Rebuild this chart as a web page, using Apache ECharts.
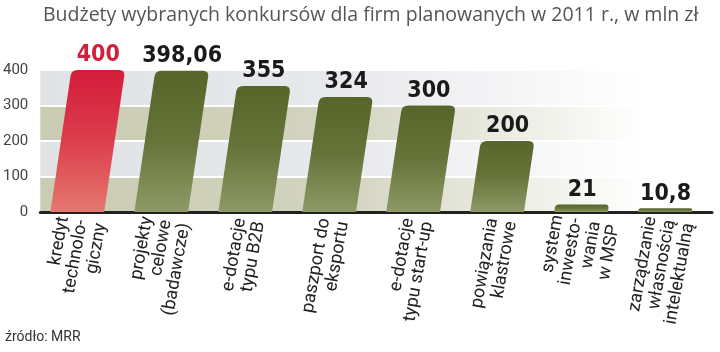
<!DOCTYPE html>
<html>
<head>
<meta charset="utf-8">
<script src="https://cdn.jsdelivr.net/npm/echarts@6/dist/echarts.min.js"></script>
<style>
  html, body { margin: 0; padding: 0; background: #fff; }
  #chart { width: 720px; height: 352px; }
</style>
</head>
<body>
<div id="chart"></div>
<script>
// categories (line breaks as in the original)
var categories = [
    'kredyt\ntechnolo-\ngiczny',
    'projekty\ncelowe\n(badawcze)',
    'e-dotacje\ntypu B2B',
    'paszport do\neksportu',
    'e-dotacje\ntypu start-up',
    'powiązania\nklastrowe',
    'system\ninwesto-\nwania\nw MSP',
    'zarządzanie\nwłasnością\nintelektualną'
];
// budgets in mln zł
var values = [400, 398.06, 355, 324, 300, 200, 21, 10.8];
var valueLabels = ['400', '398,06', '355', '324', '300', '200', '21', '10,8'];
var yTicks = [0, 100, 200, 300, 400];

var chart = echarts.init(document.getElementById('chart'));

// slanted bar with rounded top corners
function renderBar(params, api) {
    var idx = api.value(0);
    var val = api.value(1);
    var base = api.coord([idx, 0]);
    var top = api.coord([idx, val]);
    var w = api.size([1, 0])[0] * 0.64;
    var h = base[1] - top[1];
    var skew = 0.148;
    var bx = base[0] - 5;
    var tx = bx + h * skew;
    var r = Math.min(6, h / 2);
    var y0 = base[1], y1 = top[1];
    var bl = bx - w / 2, br = bx + w / 2, tl = tx - w / 2, tr = tx + w / 2;
    var d = 'M' + bl + ',' + y0 +
        ' L' + (tl - skew * r) + ',' + (y1 + r) +
        ' Q' + tl + ',' + y1 + ' ' + (tl + r) + ',' + y1 +
        ' L' + (tr - r) + ',' + y1 +
        ' Q' + tr + ',' + y1 + ' ' + (tr - skew * r) + ',' + (y1 + r) +
        ' L' + br + ',' + y0 + ' Z';
    var red = idx === 0;
    var fill = {
        type: 'linear', x: 0, y: 0, x2: 0, y2: 1,
        colorStops: red
            ? [{ offset: 0, color: '#d41c3a' }, { offset: 0.5, color: '#dc3e4c' }, { offset: 1, color: '#e5786f' }]
            : [{ offset: 0, color: '#566529' }, { offset: 0.5, color: '#66743a' }, { offset: 1, color: '#8e9a66' }]
    };
    return {
        type: 'group',
        children: [
            { type: 'path', shape: { pathData: d }, style: { fill: fill } },
            {
                type: 'text',
                style: {
                    text: valueLabels[idx],
                    x: tx, y: y1 - 3,
                    align: 'center', verticalAlign: 'bottom',
                    fill: red ? '#d21f3c' : '#1a1a1a',
                    fontSize: 23, fontWeight: 'bold',
                    fontFamily: '"DejaVu Sans Condensed", "DejaVu Sans", sans-serif'
                }
            }
        ]
    };
}

// horizontal band that fades out to the right
function band(c1, c2) {
    return {
        type: 'linear', x: 0, y: 0, x2: 1, y2: 0,
        colorStops: [{ offset: 0, color: c1 }, { offset: 0.45, color: c2 }, { offset: 0.9, color: '#ffffff' }]
    };
}

var option = {
    animation: false,
    title: [
        {
            text: 'Budżety wybranych konkursów dla firm planowanych w 2011 r., w mln zł',
            left: 38, top: 0,
            textStyle: { fontFamily: 'Open Sans', fontSize: 19.5, fontWeight: 'normal', color: '#555' }
        },
        {
            text: 'źródło: MRR',
            left: 0, top: 325,
            textStyle: { fontFamily: 'Roboto', fontSize: 14, fontWeight: 'normal', color: '#333' }
        }
    ],
    grid: { left: 40, right: 8, top: 70, bottom: 140 },
    xAxis: {
        type: 'category',
        data: categories,
        axisLine: { lineStyle: { color: '#222', width: 3 } },
        axisTick: { show: false },
        axisLabel: {
            interval: 0, rotate: 80, margin: 8,
            padding: [0, 0, 14, 0],
            fontFamily: 'Roboto', fontSize: 18, lineHeight: 19, color: '#222'
        }
    },
    yAxis: {
        type: 'value',
        min: yTicks[0], max: yTicks[yTicks.length - 1], interval: 100,
        axisLine: { show: false },
        axisTick: { show: false },
        axisLabel: { margin: 12, fontFamily: 'Roboto', fontSize: 15, color: '#444' },
        splitLine: { lineStyle: { color: '#ffffff', width: 2 } },
        splitArea: {
            show: true,
            areaStyle: { color: [band('#cacbb2', '#d3d4c0'), band('#e1e2e6', '#e8e9ec')] }
        }
    },
    series: [{
        type: 'custom',
        renderItem: renderBar,
        encode: { x: 0, y: 1 },
        data: values.map(function (v, i) { return [i, v]; }),
        z: 5
    }]
};

chart.setOption(option);
</script>
</body>
</html>
